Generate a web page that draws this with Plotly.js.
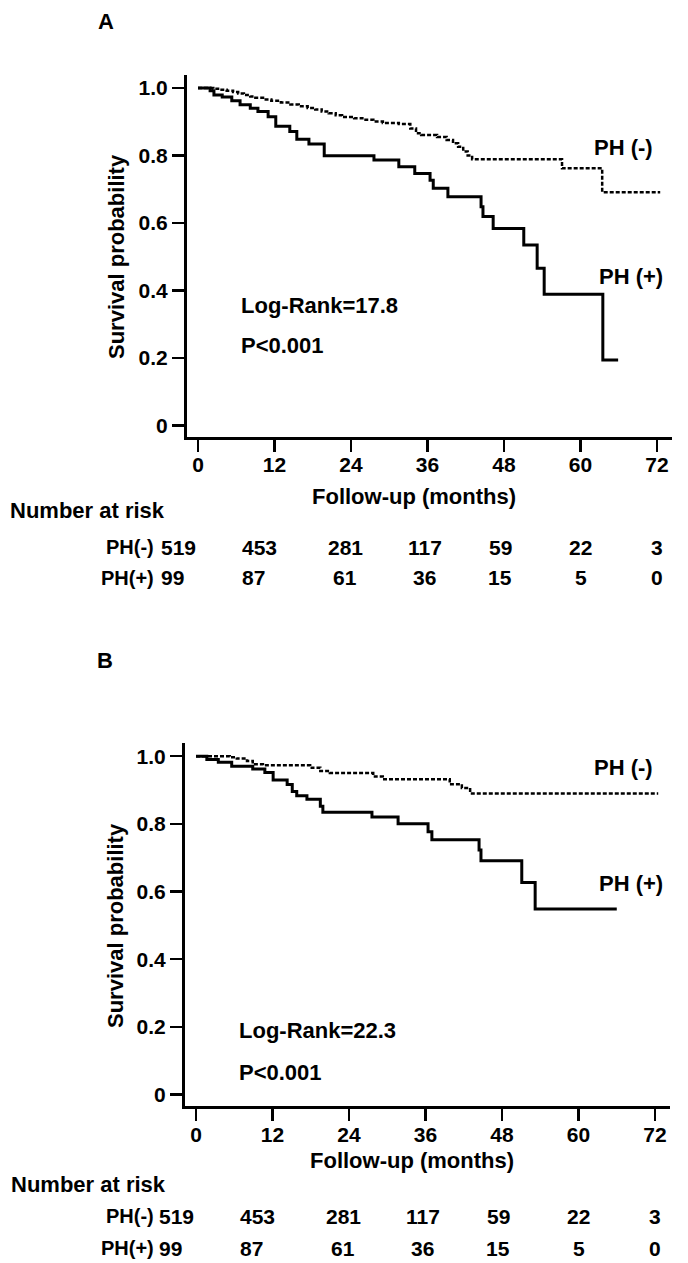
<!DOCTYPE html>
<html><head><meta charset="utf-8">
<script src="https://cdn.plot.ly/plotly-3.0.1.min.js"></script>
<style>html,body{margin:0;padding:0;background:#fff}</style>
</head><body><div id="chart" style="width:688px;height:1263px"></div>
<script>
// ---------- data ----------
const months = [0, 12, 24, 36, 48, 60, 72];
const yTickVals = [0, 0.2, 0.4, 0.6, 0.8, 1.0];
const yTickText = ['0', '0.2', '0.4', '0.6', '0.8', '1.0'];

// Panel A, PH(-) (dashed)
const aNegTime = [0, 2.4, 3.5, 4.5, 5.5, 6.3, 7.2, 8.2, 9.0, 10.2, 11.5, 13.0, 14.5, 15.8, 17.2, 18.4, 19.4, 20.5, 21.6, 22.6, 24.5, 26.0, 27.5, 29.0, 31.5, 33.3, 34.2, 35.0, 37.5, 39.0, 40.0, 40.8, 41.6, 42.3, 43.0, 57.1, 63.4, 72.5];
const aNegSurv = [1.0, 0.998, 0.995, 0.992, 0.988, 0.984, 0.979, 0.975, 0.971, 0.966, 0.962, 0.957, 0.951, 0.946, 0.941, 0.936, 0.930, 0.925, 0.919, 0.914, 0.910, 0.906, 0.901, 0.896, 0.893, 0.880, 0.866, 0.861, 0.855, 0.846, 0.836, 0.826, 0.812, 0.800, 0.789, 0.762, 0.691, 0.691];
// Panel A, PH(+) (solid)
const aPosTime = [0, 1.9, 2.5, 3.8, 5.3, 6.6, 8.2, 9.4, 11.0, 12.2, 14.4, 15.5, 17.4, 19.8, 27.6, 31.5, 34.0, 36.4, 36.9, 39.2, 44.4, 44.7, 46.3, 51.1, 53.2, 54.3, 63.5, 65.9];
const aPosSurv = [1.0, 0.992, 0.979, 0.973, 0.962, 0.950, 0.940, 0.930, 0.915, 0.887, 0.871, 0.848, 0.834, 0.799, 0.787, 0.767, 0.747, 0.727, 0.703, 0.678, 0.648, 0.619, 0.584, 0.535, 0.466, 0.389, 0.194, 0.194];

// Panel B, PH(-) (dashed)
const bNegTime = [0, 5.3, 6.4, 8.0, 8.9, 10.5, 17.9, 19.5, 21.0, 27.8, 29.3, 39.8, 41.7, 43.0, 72.5];
const bNegSurv = [1.0, 0.997, 0.993, 0.986, 0.976, 0.973, 0.966, 0.956, 0.950, 0.940, 0.932, 0.917, 0.906, 0.890, 0.890];
// Panel B, PH(+) (solid)
const bPosTime = [0, 1.7, 3.5, 5.6, 8.9, 10.8, 12.1, 14.3, 15.1, 15.8, 17.4, 19.5, 19.9, 27.6, 31.7, 36.4, 37.0, 44.4, 44.7, 51.1, 53.2, 66.0];
const bPosSurv = [1.0, 0.990, 0.982, 0.970, 0.962, 0.952, 0.930, 0.916, 0.896, 0.883, 0.873, 0.852, 0.834, 0.820, 0.800, 0.777, 0.753, 0.723, 0.691, 0.627, 0.548, 0.548];

const riskNeg = [519, 453, 281, 117, 59, 22, 3];
const riskPos = [99, 87, 61, 36, 15, 5, 0];
const panelLabels = ['A', 'B'];
const groupLabels = ['PH (-)', 'PH (+)'];
const rowLabels = ['PH(-)', 'PH(+)'];
const logRankText = ['Log-Rank=17.8', 'Log-Rank=22.3'];
const pValueText = ['P&lt;0.001', 'P&lt;0.001'];
const xTitle = 'Follow-up (months)';
const yTitle = 'Survival probability';
const riskTitle = 'Number at risk';

// ---------- layout helpers ----------
const W = 688, H = 1263;
const FONT = 'Liberation Sans, Arial, sans-serif';
const font = (s) => ({family: FONT, size: s, color: '#000', weight: 'bold'});
const px = (x) => x / W;
const py = (y) => 1 - y / H;

const traces = [
  {x: aNegTime, y: aNegSurv, xaxis: 'x', yaxis: 'y', mode: 'lines', line: {shape: 'hv', color: '#000', width: 2.5, dash: '4px,2px'}},
  {x: aPosTime, y: aPosSurv, xaxis: 'x', yaxis: 'y', mode: 'lines', line: {shape: 'hv', color: '#000', width: 3}},
  {x: bNegTime, y: bNegSurv, xaxis: 'x2', yaxis: 'y2', mode: 'lines', line: {shape: 'hv', color: '#000', width: 2.5, dash: '4px,2px'}},
  {x: bPosTime, y: bPosSurv, xaxis: 'x2', yaxis: 'y2', mode: 'lines', line: {shape: 'hv', color: '#000', width: 3}}
];

const axisCommon = {
  showline: true, linecolor: '#000', linewidth: 3, mirror: false,
  ticks: 'outside', ticklen: 12, tickwidth: 2.5, tickcolor: '#000',
  showgrid: false, zeroline: false, fixedrange: true,
  tickfont: font(21)
};

// pixel geometry of each panel
const panels = [
  {xl: 187, xr: 672, yt: 75, yb: 437, xref: 'x',
   label: [106, 22], ytitle: [117, 257], xtitle: [414, 496], risk: 511, rows: [547, 577.5],
   lr: [239, 305], pv: [239, 345], gNeg: [592, 148], gPos: [597, 276]},
  {xl: 185, xr: 670, yt: 743, yb: 1106, xref: 'x2',
   label: [105, 660], ytitle: [115, 926], xtitle: [412, 1160], risk: 1184, rows: [1216, 1248],
   lr: [237, 1030], pv: [237, 1072], gNeg: [592, 767], gPos: [597, 883]}
];

const colAnchor = ['left', 'left', 'center', 'center', 'center', 'center', 'center'];
const colShift = [-39, -35, -6, -3, -4, 0, 0];

const annotations = [];
function ann(text, x, y, size, xanchor, extra) {
  annotations.push(Object.assign({
    text: text, x: px(x), y: py(y), xref: 'paper', yref: 'paper',
    xanchor: xanchor || 'left', yanchor: 'middle', showarrow: false,
    font: font(size)
  }, extra || {}));
}

panels.forEach((p, i) => {
  ann(panelLabels[i], p.label[0], p.label[1], 22, 'center');
  ann(yTitle, p.ytitle[0], p.ytitle[1], 22, 'center', {textangle: -90});
  ann(xTitle, p.xtitle[0], p.xtitle[1], 22, 'center');
  ann(riskTitle, i === 0 ? 8 : 9, p.risk, 22, 'left');
  ann(rowLabels[0], 156, p.rows[0], 20, 'right');
  ann(rowLabels[1], 156, p.rows[1], 20, 'right');
  ann(logRankText[i], p.lr[0], p.lr[1], 22, 'left');
  ann(pValueText[i], p.pv[0], p.pv[1], 22, 'left');
  ann(groupLabels[0], p.gNeg[0], p.gNeg[1], 22, 'left');
  ann(groupLabels[1], p.gPos[0], p.gPos[1], 22, 'left');
  [riskNeg, riskPos].forEach((row, r) => {
    row.forEach((v, k) => {
      annotations.push({
        text: String(v), x: months[k], y: py(p.rows[r]), xref: p.xref, yref: 'paper',
        xanchor: colAnchor[k], xshift: colShift[k], yanchor: 'middle', showarrow: false,
        font: font(21)
      });
    });
  });
});

const layout = {
  width: W, height: H, margin: {l: 0, r: 0, t: 0, b: 0},
  paper_bgcolor: '#fff', plot_bgcolor: '#fff', showlegend: false,
  xaxis: Object.assign({}, axisCommon, {domain: [px(panels[0].xl), px(panels[0].xr)], range: [-1.725, 74.35], tickvals: months, anchor: 'y', ticklabelstandoff: -5}),
  yaxis: Object.assign({}, axisCommon, {domain: [py(panels[0].yb), py(panels[0].yt)], range: [-0.0341, 1.0385], tickvals: yTickVals, ticktext: yTickText, anchor: 'x'}),
  xaxis2: Object.assign({}, axisCommon, {domain: [px(panels[1].xl), px(panels[1].xr)], range: [-1.725, 74.35], tickvals: months, anchor: 'y2', ticklabelstandoff: -4}),
  yaxis2: Object.assign({}, axisCommon, {domain: [py(panels[1].yb), py(panels[1].yt)], range: [-0.034, 1.039], tickvals: yTickVals, ticktext: yTickText, anchor: 'x2'}),
  annotations: annotations
};

Plotly.newPlot('chart', traces, layout, {displayModeBar: false, staticPlot: true});
</script>
</body></html>
